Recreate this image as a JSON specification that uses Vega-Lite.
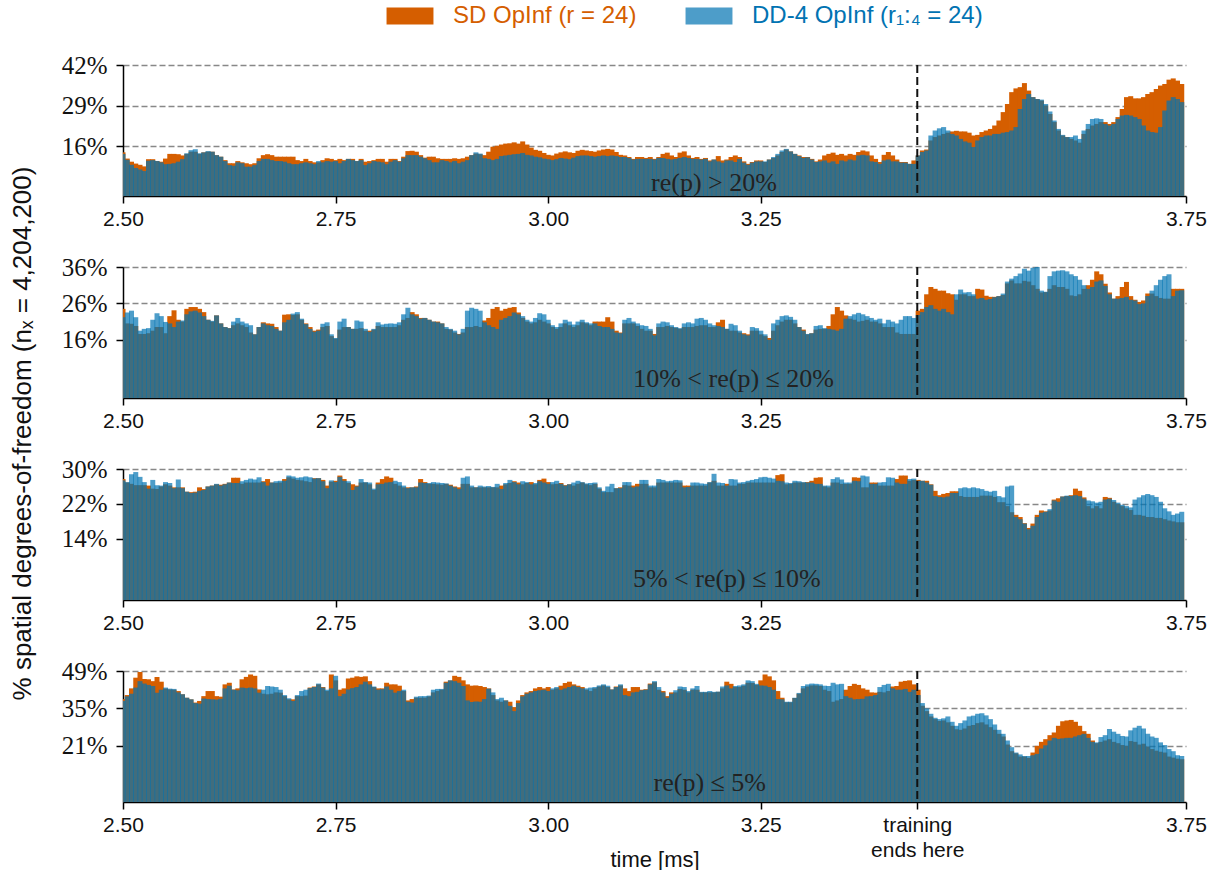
{
"$schema": "https://vega.github.io/schema/vega-lite/v6.json",
"background": "white",
"padding": {"left": 8, "top": 4, "right": 0, "bottom": 0},
"bounds": "flush",
"spacing": 71,
"config": {
 "view": {"stroke": null},
 "font": "Liberation Sans",
 "scale": {"continuousPadding": 0},
 "axis": {"domainColor": "#000", "domainWidth": 1.5, "tickColor": "#000", "tickWidth": 1.5, "tickSize": 7, "labelFont": "Liberation Sans", "labelFontSize": 21, "labelColor": "#111", "labelPadding": 5, "gridColor": "#888", "gridDash": [6, 3], "gridWidth": 1.3, "zindex": 1, "labelOverlap": false, "labelFlush": false, "titleFont": "Liberation Sans", "titleFontSize": 22, "titleFontWeight": "normal", "titleColor": "#111"},
 "axisY": {"labelFont": "Liberation Serif", "labelFontSize": 25, "labelPadding": 9, "grid": true},
 "axisX": {"grid": false, "labelLineHeight": 25}
},
"datasets": {
"p1": [
{"t":2.5,"a":14,"b":13.5},{"t":2.505,"a":12,"b":11.6},{"t":2.51,"a":11,"b":10},{"t":2.515,"a":10.4,"b":9},{"t":2.52,"a":10,"b":8.5},{"t":2.525,"a":9.5,"b":8},{"t":2.53,"a":11.8,"b":11.3},{"t":2.535,"a":11.8,"b":11.5},{"t":2.54,"a":11.2,"b":11.2},{"t":2.545,"a":11,"b":10.8},
{"t":2.55,"a":12,"b":10.2},{"t":2.555,"a":13.5,"b":10.3},{"t":2.56,"a":13.5,"b":10.5},{"t":2.565,"a":13.4,"b":11},{"t":2.57,"a":13,"b":11.8},{"t":2.575,"a":13.5,"b":13.7},{"t":2.58,"a":14.2,"b":14.7},{"t":2.585,"a":14.2,"b":15},{"t":2.59,"a":13.5,"b":13.7},{"t":2.595,"a":14,"b":14},
{"t":2.6,"a":14.2,"b":14.4},{"t":2.605,"a":14.2,"b":14.2},{"t":2.61,"a":13.1,"b":13.1},{"t":2.615,"a":12.6,"b":12.6},{"t":2.62,"a":11.5,"b":11.2},{"t":2.625,"a":10.5,"b":9.9},{"t":2.63,"a":10.5,"b":9.7},{"t":2.635,"a":11.2,"b":10.8},{"t":2.64,"a":10.8,"b":10.5},{"t":2.645,"a":10.5,"b":9.4},
{"t":2.65,"a":10.2,"b":9.4},{"t":2.655,"a":10.5,"b":9.9},{"t":2.66,"a":12.1,"b":11.2},{"t":2.665,"a":13.1,"b":11.9},{"t":2.67,"a":13.4,"b":11.9},{"t":2.675,"a":13.1,"b":11.5},{"t":2.68,"a":12.6,"b":11.2},{"t":2.685,"a":12.6,"b":11.2},{"t":2.69,"a":12.6,"b":11},{"t":2.695,"a":12.6,"b":10.5},
{"t":2.7,"a":12.6,"b":10.2},{"t":2.705,"a":11.5,"b":10.2},{"t":2.71,"a":11.2,"b":10.5},{"t":2.715,"a":11.9,"b":10.8},{"t":2.72,"a":11.2,"b":10.5},{"t":2.725,"a":10.8,"b":10.2},{"t":2.73,"a":10.8,"b":11.2},{"t":2.735,"a":11.5,"b":10.8},{"t":2.74,"a":12.1,"b":11.2},{"t":2.745,"a":11.9,"b":11},
{"t":2.75,"a":11.5,"b":11.2},{"t":2.755,"a":11.9,"b":10.5},{"t":2.76,"a":11.5,"b":11.2},{"t":2.765,"a":11.9,"b":11.9},{"t":2.77,"a":11.9,"b":11.5},{"t":2.775,"a":11.2,"b":11.2},{"t":2.78,"a":11.9,"b":11.5},{"t":2.785,"a":11,"b":9.9},{"t":2.79,"a":11.2,"b":10.5},{"t":2.795,"a":11.5,"b":11.2},
{"t":2.8,"a":11.9,"b":11},{"t":2.805,"a":11.9,"b":10.8},{"t":2.81,"a":11,"b":10.2},{"t":2.815,"a":11.9,"b":11},{"t":2.82,"a":11.9,"b":11.5},{"t":2.825,"a":11.2,"b":11},{"t":2.83,"a":12.6,"b":12.1},{"t":2.835,"a":14.4,"b":13.1},{"t":2.84,"a":14.5,"b":13.1},{"t":2.845,"a":14.2,"b":13.1},
{"t":2.85,"a":13.1,"b":12.6},{"t":2.855,"a":12.3,"b":12.1},{"t":2.86,"a":12.6,"b":11.5},{"t":2.865,"a":12.6,"b":10.8},{"t":2.87,"a":12.1,"b":10.8},{"t":2.875,"a":11.9,"b":11.5},{"t":2.88,"a":11.9,"b":11.2},{"t":2.885,"a":11.9,"b":10.8},{"t":2.89,"a":12.1,"b":11.2},{"t":2.895,"a":11.9,"b":10.5},
{"t":2.9,"a":12.1,"b":11},{"t":2.905,"a":12.6,"b":11.5},{"t":2.91,"a":13.1,"b":13.1},{"t":2.915,"a":13.6,"b":14},{"t":2.92,"a":13.4,"b":13.6},{"t":2.925,"a":13.1,"b":12.1},{"t":2.93,"a":14.2,"b":11.9},{"t":2.935,"a":15.8,"b":11.5},{"t":2.94,"a":16.1,"b":11.9},{"t":2.945,"a":16.5,"b":12.8},
{"t":2.95,"a":16.8,"b":13},{"t":2.955,"a":16.9,"b":13.2},{"t":2.96,"a":17.2,"b":13.4},{"t":2.965,"a":16.8,"b":13.5},{"t":2.97,"a":17.5,"b":13.8},{"t":2.975,"a":16.5,"b":13.2},{"t":2.98,"a":15.5,"b":13},{"t":2.985,"a":14.8,"b":12.6},{"t":2.99,"a":14.5,"b":12.4},{"t":2.995,"a":13.8,"b":12},
{"t":3.0,"a":13.2,"b":11.8},{"t":3.005,"a":13,"b":11.5},{"t":3.01,"a":13.6,"b":11.8},{"t":3.015,"a":14,"b":12.2},{"t":3.02,"a":14.3,"b":12},{"t":3.025,"a":14,"b":11.8},{"t":3.03,"a":13.8,"b":12.3},{"t":3.035,"a":14.5,"b":12.8},{"t":3.04,"a":14.8,"b":13},{"t":3.045,"a":14.6,"b":13},
{"t":3.05,"a":14.4,"b":12.8},{"t":3.055,"a":14.2,"b":12.6},{"t":3.06,"a":14.6,"b":12.8},{"t":3.065,"a":14.9,"b":13},{"t":3.07,"a":15.1,"b":12.8},{"t":3.075,"a":14.9,"b":13},{"t":3.08,"a":14.1,"b":12.8},{"t":3.085,"a":13.2,"b":12.5},{"t":3.09,"a":13,"b":12.5},{"t":3.095,"a":12.5,"b":12.2},
{"t":3.1,"a":11.9,"b":11.7},{"t":3.105,"a":12.5,"b":11.9},{"t":3.11,"a":12.5,"b":11.9},{"t":3.115,"a":12.2,"b":11.9},{"t":3.12,"a":12.5,"b":11.9},{"t":3.125,"a":11.9,"b":11.7},{"t":3.13,"a":12.5,"b":12.2},{"t":3.135,"a":13.5,"b":12.2},{"t":3.14,"a":13.9,"b":11.9},{"t":3.145,"a":13,"b":11.7},
{"t":3.15,"a":12.5,"b":11.9},{"t":3.155,"a":13.9,"b":12.2},{"t":3.16,"a":14.3,"b":12.5},{"t":3.165,"a":13,"b":12.2},{"t":3.17,"a":12.2,"b":11.9},{"t":3.175,"a":12.5,"b":11.9},{"t":3.18,"a":11.9,"b":11.7},{"t":3.185,"a":12.2,"b":11.9},{"t":3.19,"a":11.4,"b":11.1},{"t":3.195,"a":11.7,"b":11.7},
{"t":3.2,"a":12.8,"b":11.1},{"t":3.205,"a":11.4,"b":10.7},{"t":3.21,"a":11.7,"b":11.4},{"t":3.215,"a":12.5,"b":11.4},{"t":3.22,"a":13,"b":10.9},{"t":3.225,"a":12.5,"b":11.9},{"t":3.23,"a":11.1,"b":10.7},{"t":3.235,"a":10.3,"b":10},{"t":3.24,"a":10.9,"b":10.7},{"t":3.245,"a":11.4,"b":11.1},
{"t":3.25,"a":11.4,"b":11.1},{"t":3.255,"a":10.9,"b":11.1},{"t":3.26,"a":11.7,"b":11.7},{"t":3.265,"a":12.2,"b":12.5},{"t":3.27,"a":13,"b":13.5},{"t":3.275,"a":14.1,"b":14.6},{"t":3.28,"a":14.9,"b":15.1},{"t":3.285,"a":14.3,"b":14.3},{"t":3.29,"a":13.5,"b":13.5},{"t":3.295,"a":13,"b":12.8},
{"t":3.3,"a":12.5,"b":12.2},{"t":3.305,"a":12.5,"b":12.4},{"t":3.31,"a":11.9,"b":11.7},{"t":3.315,"a":11.1,"b":10.9},{"t":3.32,"a":11.7,"b":11.1},{"t":3.325,"a":13,"b":11.4},{"t":3.33,"a":13.5,"b":10.7},{"t":3.335,"a":13.9,"b":11.1},{"t":3.34,"a":13.2,"b":10.3},{"t":3.345,"a":13.5,"b":11.4},
{"t":3.35,"a":13,"b":11.1},{"t":3.355,"a":13.5,"b":11.7},{"t":3.36,"a":13.2,"b":11.4},{"t":3.365,"a":14.1,"b":13},{"t":3.37,"a":14.6,"b":13.2},{"t":3.375,"a":14.3,"b":13},{"t":3.38,"a":13,"b":11.1},{"t":3.385,"a":11.9,"b":10.9},{"t":3.39,"a":10.9,"b":10.3},{"t":3.395,"a":13.2,"b":11.4},
{"t":3.4,"a":14.1,"b":11.7},{"t":3.405,"a":13,"b":11.1},{"t":3.41,"a":11.7,"b":11.1},{"t":3.415,"a":10.9,"b":10.7},{"t":3.42,"a":10.9,"b":10.7},{"t":3.425,"a":10.3,"b":10.3},{"t":3.43,"a":11.4,"b":10.3},{"t":3.435,"a":13,"b":13},{"t":3.44,"a":14.6,"b":14.1},{"t":3.445,"a":14.9,"b":14.6},
{"t":3.45,"a":17.8,"b":19.4},{"t":3.455,"a":18.9,"b":21},{"t":3.46,"a":19.4,"b":21.7},{"t":3.465,"a":19.9,"b":22.1},{"t":3.47,"a":20.3,"b":21},{"t":3.475,"a":20.7,"b":19.9},{"t":3.48,"a":20.9,"b":19.4},{"t":3.485,"a":20.7,"b":18.3},{"t":3.49,"a":20.7,"b":17.5},{"t":3.495,"a":20.3,"b":17.1},
{"t":3.5,"a":19.4,"b":15.7},{"t":3.505,"a":19.6,"b":17.8},{"t":3.51,"a":20.5,"b":18.9},{"t":3.515,"a":21,"b":19.4},{"t":3.52,"a":21.5,"b":19.4},{"t":3.525,"a":22.6,"b":19.9},{"t":3.53,"a":24.2,"b":19.9},{"t":3.535,"a":26.9,"b":20.3},{"t":3.54,"a":29.5,"b":20.5},{"t":3.545,"a":33.3,"b":21},
{"t":3.55,"a":34.5,"b":22.1},{"t":3.555,"a":34.9,"b":27.9},{"t":3.56,"a":36.2,"b":31.1},{"t":3.565,"a":33.8,"b":32.7},{"t":3.57,"a":31.7,"b":31.7},{"t":3.575,"a":31.1,"b":31.1},{"t":3.58,"a":30.6,"b":30.9},{"t":3.585,"a":29,"b":29.5},{"t":3.59,"a":26.3,"b":27.1},{"t":3.595,"a":23.7,"b":24.2},
{"t":3.6,"a":21,"b":21.5},{"t":3.605,"a":19.4,"b":19.6},{"t":3.61,"a":18.9,"b":18.9},{"t":3.615,"a":18.3,"b":18.9},{"t":3.62,"a":17.8,"b":19.4},{"t":3.625,"a":17.1,"b":18.3},{"t":3.63,"a":19.9,"b":21},{"t":3.635,"a":21.5,"b":23.1},{"t":3.64,"a":22.6,"b":24.7},{"t":3.645,"a":23.1,"b":24.9},
{"t":3.65,"a":23.7,"b":24.7},{"t":3.655,"a":23.7,"b":23.1},{"t":3.66,"a":23.1,"b":22.6},{"t":3.665,"a":23.7,"b":23.1},{"t":3.67,"a":25.3,"b":24.7},{"t":3.675,"a":27.9,"b":25.8},{"t":3.68,"a":31.7,"b":26},{"t":3.685,"a":32,"b":25.8},{"t":3.69,"a":31.3,"b":25.3},{"t":3.695,"a":31.3,"b":24.7},
{"t":3.7,"a":31.7,"b":22.6},{"t":3.705,"a":32.7,"b":21},{"t":3.71,"a":33.3,"b":20.5},{"t":3.715,"a":34.3,"b":20.3},{"t":3.72,"a":35.4,"b":22.1},{"t":3.725,"a":35.9,"b":27.4},{"t":3.73,"a":37.3,"b":30.6},{"t":3.735,"a":37.7,"b":31.7},{"t":3.74,"a":37,"b":31.1},{"t":3.745,"a":35.9,"b":30.1}
],
"p2": [
{"t":2.5,"a":24.5,"b":22.2},{"t":2.505,"a":20.5,"b":23.5},{"t":2.51,"a":20.4,"b":24},{"t":2.515,"a":19.8,"b":22.2},{"t":2.52,"a":17.6,"b":18.5},{"t":2.525,"a":17.6,"b":19},{"t":2.53,"a":17.8,"b":19.2},{"t":2.535,"a":18.5,"b":21.5},{"t":2.54,"a":19.5,"b":23.3},{"t":2.545,"a":19.5,"b":22.5},
{"t":2.55,"a":17.8,"b":20.9},{"t":2.555,"a":22.5,"b":20.5},{"t":2.56,"a":24.1,"b":19.5},{"t":2.565,"a":21.5,"b":21},{"t":2.57,"a":21,"b":21.3},{"t":2.575,"a":24.5,"b":23},{"t":2.58,"a":25,"b":23.8},{"t":2.585,"a":25,"b":24},{"t":2.59,"a":24.5,"b":23.5},{"t":2.595,"a":23.6,"b":22.5},
{"t":2.6,"a":21.5,"b":21.5},{"t":2.605,"a":21,"b":21.2},{"t":2.61,"a":22.7,"b":22.7},{"t":2.615,"a":20.5,"b":20.5},{"t":2.62,"a":19.5,"b":19.5},{"t":2.625,"a":19.2,"b":19.2},{"t":2.63,"a":20,"b":21},{"t":2.635,"a":20.5,"b":22},{"t":2.64,"a":20,"b":21},{"t":2.645,"a":19.5,"b":20.5},
{"t":2.65,"a":18,"b":20},{"t":2.655,"a":17.5,"b":17.5},{"t":2.66,"a":19.5,"b":19.5},{"t":2.665,"a":20.8,"b":20.5},{"t":2.67,"a":20.5,"b":20},{"t":2.675,"a":20.4,"b":19.8},{"t":2.68,"a":19.5,"b":19},{"t":2.685,"a":18.5,"b":18.5},{"t":2.69,"a":22.9,"b":20.8},{"t":2.695,"a":23,"b":21.5},
{"t":2.7,"a":22.8,"b":23.2},{"t":2.705,"a":23,"b":23.6},{"t":2.71,"a":21.5,"b":21.8},{"t":2.715,"a":20.5,"b":20.3},{"t":2.72,"a":19.5,"b":19},{"t":2.725,"a":18.5,"b":18.2},{"t":2.73,"a":18.8,"b":18.5},{"t":2.735,"a":19.5,"b":20.4},{"t":2.74,"a":19.8,"b":20.8},{"t":2.745,"a":17,"b":17.5},
{"t":2.75,"a":16.3,"b":16.5},{"t":2.755,"a":18.8,"b":21},{"t":2.76,"a":19.5,"b":21.8},{"t":2.765,"a":19.5,"b":19.5},{"t":2.77,"a":19,"b":19},{"t":2.775,"a":19,"b":21.3},{"t":2.78,"a":19.2,"b":21},{"t":2.785,"a":18.5,"b":19},{"t":2.79,"a":18.5,"b":18.2},{"t":2.795,"a":18.8,"b":19},
{"t":2.8,"a":19.8,"b":20.8},{"t":2.805,"a":19.5,"b":20.2},{"t":2.81,"a":19.5,"b":20.4},{"t":2.815,"a":19.5,"b":20.5},{"t":2.82,"a":19.5,"b":20.4},{"t":2.825,"a":20,"b":20.8},{"t":2.83,"a":21.5,"b":23},{"t":2.835,"a":22,"b":24.8},{"t":2.84,"a":23.6,"b":23},{"t":2.845,"a":23,"b":22.5},
{"t":2.85,"a":22,"b":21.8},{"t":2.855,"a":22,"b":22},{"t":2.86,"a":21.5,"b":21.5},{"t":2.865,"a":21,"b":21},{"t":2.87,"a":21,"b":20.8},{"t":2.875,"a":20.5,"b":20.5},{"t":2.88,"a":19,"b":19.5},{"t":2.885,"a":18.8,"b":19},{"t":2.89,"a":18,"b":18.5},{"t":2.895,"a":17.6,"b":17.5},
{"t":2.9,"a":18,"b":19},{"t":2.905,"a":19.5,"b":24},{"t":2.91,"a":19.5,"b":24.8},{"t":2.915,"a":19.8,"b":24.5},{"t":2.92,"a":19.5,"b":24},{"t":2.925,"a":21.3,"b":20.8},{"t":2.93,"a":22,"b":20},{"t":2.935,"a":24.5,"b":19.5},{"t":2.94,"a":25,"b":19},{"t":2.945,"a":24,"b":21.5},
{"t":2.95,"a":24.5,"b":22},{"t":2.955,"a":24.8,"b":22.5},{"t":2.96,"a":25,"b":23.5},{"t":2.965,"a":23.5,"b":23},{"t":2.97,"a":22,"b":22.5},{"t":2.975,"a":21,"b":21.5},{"t":2.98,"a":20.5,"b":21},{"t":2.985,"a":20.8,"b":22},{"t":2.99,"a":21.5,"b":23.3},{"t":2.995,"a":21,"b":23},
{"t":3.0,"a":20.5,"b":21.5},{"t":3.005,"a":19.5,"b":20},{"t":3.01,"a":19,"b":19.5},{"t":3.015,"a":19.5,"b":20.5},{"t":3.02,"a":20.5,"b":21.5},{"t":3.025,"a":20,"b":21},{"t":3.03,"a":19.5,"b":20.2},{"t":3.035,"a":20,"b":21},{"t":3.04,"a":20.8,"b":21.5},{"t":3.045,"a":20.5,"b":20.8},
{"t":3.05,"a":20,"b":20.5},{"t":3.055,"a":21,"b":20.5},{"t":3.06,"a":21,"b":19.8},{"t":3.065,"a":21,"b":19.5},{"t":3.07,"a":22.2,"b":19.5},{"t":3.075,"a":21,"b":19},{"t":3.08,"a":18.5,"b":18},{"t":3.085,"a":18,"b":17.8},{"t":3.09,"a":20.5,"b":21.5},{"t":3.095,"a":20.5,"b":22},
{"t":3.1,"a":20.5,"b":21},{"t":3.105,"a":19.8,"b":20.5},{"t":3.11,"a":19,"b":20},{"t":3.115,"a":18.5,"b":19.8},{"t":3.12,"a":18.5,"b":19},{"t":3.125,"a":17.6,"b":17.2},{"t":3.13,"a":19.5,"b":20.5},{"t":3.135,"a":19.5,"b":21},{"t":3.14,"a":19.8,"b":20.8},{"t":3.145,"a":19.5,"b":20},
{"t":3.15,"a":19.3,"b":19.5},{"t":3.155,"a":19,"b":19.2},{"t":3.16,"a":19.5,"b":20.5},{"t":3.165,"a":19.5,"b":20.8},{"t":3.17,"a":19.5,"b":20.5},{"t":3.175,"a":19.8,"b":21.8},{"t":3.18,"a":20,"b":22},{"t":3.185,"a":20,"b":21.5},{"t":3.19,"a":19.5,"b":20.5},{"t":3.195,"a":19.5,"b":20},
{"t":3.2,"a":20.8,"b":19.8},{"t":3.205,"a":21.5,"b":19.5},{"t":3.21,"a":19,"b":19},{"t":3.215,"a":18.5,"b":20.4},{"t":3.22,"a":18.5,"b":20},{"t":3.225,"a":18,"b":18.5},{"t":3.23,"a":17.8,"b":17.5},{"t":3.235,"a":17.5,"b":17.2},{"t":3.24,"a":18.5,"b":19.5},{"t":3.245,"a":18.5,"b":19.2},
{"t":3.25,"a":17.5,"b":18.5},{"t":3.255,"a":17,"b":17.5},{"t":3.26,"a":16.5,"b":16},{"t":3.265,"a":18.5,"b":20.5},{"t":3.27,"a":20,"b":21.5},{"t":3.275,"a":21,"b":22.5},{"t":3.28,"a":21.5,"b":22.7},{"t":3.285,"a":21.5,"b":22.3},{"t":3.29,"a":20.5,"b":21.5},{"t":3.295,"a":19.5,"b":19.5},
{"t":3.3,"a":18.8,"b":18.5},{"t":3.305,"a":17.5,"b":17.6},{"t":3.31,"a":17.8,"b":17.8},{"t":3.315,"a":18.8,"b":19.8},{"t":3.32,"a":19,"b":20},{"t":3.325,"a":19,"b":19.2},{"t":3.33,"a":19.8,"b":19},{"t":3.335,"a":23,"b":18.8},{"t":3.34,"a":25,"b":18.5},{"t":3.345,"a":24,"b":19},
{"t":3.35,"a":22.7,"b":21.8},{"t":3.355,"a":21.8,"b":22.5},{"t":3.36,"a":21.5,"b":23},{"t":3.365,"a":21,"b":23.4},{"t":3.37,"a":21.2,"b":23},{"t":3.375,"a":21.5,"b":22.5},{"t":3.38,"a":21,"b":22},{"t":3.385,"a":21,"b":21.5},{"t":3.39,"a":20.5,"b":21.8},{"t":3.395,"a":19.5,"b":20.5},
{"t":3.4,"a":19.5,"b":21.5},{"t":3.405,"a":19.5,"b":21},{"t":3.41,"a":18,"b":20.5},{"t":3.415,"a":17.6,"b":21.5},{"t":3.42,"a":17.6,"b":22.5},{"t":3.425,"a":17.6,"b":22.5},{"t":3.43,"a":17.6,"b":22},{"t":3.435,"a":24,"b":22.8},{"t":3.44,"a":24.5,"b":23.6},{"t":3.445,"a":28.5,"b":25},
{"t":3.45,"a":30.5,"b":25.5},{"t":3.455,"a":30,"b":24.5},{"t":3.46,"a":29.5,"b":24},{"t":3.465,"a":29.5,"b":24.5},{"t":3.47,"a":28.8,"b":23.6},{"t":3.475,"a":28.5,"b":23},{"t":3.48,"a":27,"b":28.5},{"t":3.485,"a":28.5,"b":29.8},{"t":3.49,"a":28.5,"b":29},{"t":3.495,"a":28,"b":29.1},
{"t":3.5,"a":28,"b":28.5},{"t":3.505,"a":30,"b":27.3},{"t":3.51,"a":29.8,"b":27.5},{"t":3.515,"a":28.1,"b":27},{"t":3.52,"a":27.8,"b":27.2},{"t":3.525,"a":27.8,"b":27.7},{"t":3.53,"a":28,"b":28},{"t":3.535,"a":28.3,"b":28.7},{"t":3.54,"a":31.5,"b":32},{"t":3.545,"a":32.3,"b":32.8},
{"t":3.55,"a":31.5,"b":33.5},{"t":3.555,"a":31.5,"b":34.2},{"t":3.56,"a":32.2,"b":35.5},{"t":3.565,"a":32,"b":35},{"t":3.57,"a":31,"b":35.8},{"t":3.575,"a":30,"b":36},{"t":3.58,"a":29,"b":29.5},{"t":3.585,"a":29.1,"b":29.2},{"t":3.59,"a":30,"b":33.5},{"t":3.595,"a":31,"b":34.8},
{"t":3.6,"a":30.5,"b":35},{"t":3.605,"a":30.5,"b":35.1},{"t":3.61,"a":30,"b":34.8},{"t":3.615,"a":28.2,"b":34},{"t":3.62,"a":28,"b":33.5},{"t":3.625,"a":28.5,"b":32.5},{"t":3.63,"a":30,"b":31},{"t":3.635,"a":31,"b":30},{"t":3.64,"a":32.5,"b":30.5},{"t":3.645,"a":34.8,"b":32},
{"t":3.65,"a":34,"b":32.3},{"t":3.655,"a":31.4,"b":30.8},{"t":3.66,"a":29,"b":28.5},{"t":3.665,"a":27.3,"b":27.3},{"t":3.67,"a":28,"b":27.3},{"t":3.675,"a":30.5,"b":27.5},{"t":3.68,"a":31.9,"b":27.8},{"t":3.685,"a":28,"b":27},{"t":3.69,"a":27,"b":26.8},{"t":3.695,"a":26.4,"b":25.8},
{"t":3.7,"a":26.8,"b":26},{"t":3.705,"a":28.7,"b":28},{"t":3.71,"a":28.7,"b":29.5},{"t":3.715,"a":28,"b":31},{"t":3.72,"a":27.5,"b":32.5},{"t":3.725,"a":27.3,"b":33.5},{"t":3.73,"a":27.3,"b":34},{"t":3.735,"a":30,"b":28},{"t":3.74,"a":30,"b":29.5},{"t":3.745,"a":30,"b":29.6}
],
"p3": [
{"t":2.5,"a":27.7,"b":27.4},{"t":2.505,"a":26.9,"b":27},{"t":2.51,"a":26.6,"b":28.8},{"t":2.515,"a":26.3,"b":29.3},{"t":2.52,"a":26.3,"b":28.2},{"t":2.525,"a":26.3,"b":27},{"t":2.53,"a":26.2,"b":25.5},{"t":2.535,"a":25.5,"b":27.5},{"t":2.54,"a":25.4,"b":26.3},{"t":2.545,"a":26,"b":26.2},
{"t":2.55,"a":26.5,"b":27},{"t":2.555,"a":26.2,"b":26.8},{"t":2.56,"a":25.8,"b":25.6},{"t":2.565,"a":25.8,"b":27.6},{"t":2.57,"a":25.8,"b":25.6},{"t":2.575,"a":24.8,"b":24.8},{"t":2.58,"a":24.7,"b":24.5},{"t":2.585,"a":24.8,"b":24.6},{"t":2.59,"a":25.8,"b":25},{"t":2.595,"a":25.4,"b":25.2},
{"t":2.6,"a":26,"b":26},{"t":2.605,"a":26.2,"b":26.2},{"t":2.61,"a":26.5,"b":26.6},{"t":2.615,"a":26.4,"b":26.2},{"t":2.62,"a":26.6,"b":26.5},{"t":2.625,"a":26.9,"b":26.9},{"t":2.63,"a":28,"b":26.8},{"t":2.635,"a":28,"b":26.8},{"t":2.64,"a":26.6,"b":27.2},{"t":2.645,"a":26.9,"b":27.5},
{"t":2.65,"a":26.9,"b":27.8},{"t":2.655,"a":26.9,"b":27.6},{"t":2.66,"a":26.9,"b":28.1},{"t":2.665,"a":27.2,"b":27},{"t":2.67,"a":27.7,"b":26.2},{"t":2.675,"a":26.9,"b":26.9},{"t":2.68,"a":26.8,"b":27.2},{"t":2.685,"a":26.9,"b":27.3},{"t":2.69,"a":27.7,"b":27.3},{"t":2.695,"a":28.1,"b":28.5},
{"t":2.7,"a":27.8,"b":28.3},{"t":2.705,"a":27.5,"b":28},{"t":2.71,"a":27.4,"b":28.1},{"t":2.715,"a":27.2,"b":28.3},{"t":2.72,"a":27,"b":28.1},{"t":2.725,"a":27.9,"b":27.8},{"t":2.73,"a":27.9,"b":27.9},{"t":2.735,"a":27.5,"b":27.2},{"t":2.74,"a":26.2,"b":25.6},{"t":2.745,"a":27.1,"b":27.4},
{"t":2.75,"a":27.3,"b":27},{"t":2.755,"a":28.5,"b":28.2},{"t":2.76,"a":27.7,"b":27.3},{"t":2.765,"a":26.8,"b":27.2},{"t":2.77,"a":26.5,"b":25.2},{"t":2.775,"a":26.2,"b":26},{"t":2.78,"a":26.9,"b":27.7},{"t":2.785,"a":26.9,"b":27},{"t":2.79,"a":26.5,"b":26.9},{"t":2.795,"a":25.2,"b":25.5},
{"t":2.8,"a":26.9,"b":26.5},{"t":2.805,"a":27.7,"b":26.6},{"t":2.81,"a":28.3,"b":26.9},{"t":2.815,"a":28,"b":27},{"t":2.82,"a":26.6,"b":27.3},{"t":2.825,"a":26.2,"b":27},{"t":2.83,"a":25.8,"b":26.2},{"t":2.835,"a":25.8,"b":25.6},{"t":2.84,"a":25.8,"b":25.8},{"t":2.845,"a":26,"b":25.8},
{"t":2.85,"a":27.7,"b":26.9},{"t":2.855,"a":27,"b":26.8},{"t":2.86,"a":26.6,"b":26.8},{"t":2.865,"a":26.6,"b":27},{"t":2.87,"a":26.5,"b":26.9},{"t":2.875,"a":26.4,"b":26.8},{"t":2.88,"a":26.6,"b":26.7},{"t":2.885,"a":26.4,"b":26.2},{"t":2.89,"a":26,"b":25.8},{"t":2.895,"a":25.8,"b":25.4},
{"t":2.9,"a":26.6,"b":28},{"t":2.905,"a":26.6,"b":28.3},{"t":2.91,"a":25.8,"b":26.2},{"t":2.915,"a":25.8,"b":25.8},{"t":2.92,"a":25.8,"b":26.2},{"t":2.925,"a":25.8,"b":26},{"t":2.93,"a":25.8,"b":26.1},{"t":2.935,"a":25.8,"b":25.9},{"t":2.94,"a":25.8,"b":26.6},{"t":2.945,"a":26.2,"b":25.4},
{"t":2.95,"a":26.5,"b":26.8},{"t":2.955,"a":26.8,"b":27.5},{"t":2.96,"a":27.2,"b":27},{"t":2.965,"a":26.9,"b":26.5},{"t":2.97,"a":26.5,"b":27.2},{"t":2.975,"a":26.8,"b":27},{"t":2.98,"a":27,"b":26.5},{"t":2.985,"a":26.5,"b":26.8},{"t":2.99,"a":27.5,"b":27.2},{"t":2.995,"a":27.8,"b":26.9},
{"t":3.0,"a":27,"b":26.6},{"t":3.005,"a":26.5,"b":27},{"t":3.01,"a":26.6,"b":27.3},{"t":3.015,"a":26.8,"b":26.6},{"t":3.02,"a":26.3,"b":26.2},{"t":3.025,"a":26.5,"b":26.5},{"t":3.03,"a":26.2,"b":26.9},{"t":3.035,"a":26.6,"b":27.3},{"t":3.04,"a":26.9,"b":27},{"t":3.045,"a":26.5,"b":26.7},
{"t":3.05,"a":26.3,"b":26.8},{"t":3.055,"a":26.6,"b":26.9},{"t":3.06,"a":25.5,"b":25.8},{"t":3.065,"a":24.7,"b":25},{"t":3.07,"a":24.7,"b":26},{"t":3.075,"a":24.7,"b":26.6},{"t":3.08,"a":25.6,"b":25.6},{"t":3.085,"a":25.8,"b":25.6},{"t":3.09,"a":26.3,"b":27},{"t":3.095,"a":26.2,"b":27},
{"t":3.1,"a":26.2,"b":25.8},{"t":3.105,"a":26.6,"b":26},{"t":3.11,"a":26.6,"b":27.5},{"t":3.115,"a":26.6,"b":27.5},{"t":3.12,"a":25.8,"b":26.2},{"t":3.125,"a":25.8,"b":26.2},{"t":3.13,"a":26.9,"b":27.7},{"t":3.135,"a":26.9,"b":27.5},{"t":3.14,"a":26.9,"b":27.2},{"t":3.145,"a":26.9,"b":27.3},
{"t":3.15,"a":26.9,"b":27.5},{"t":3.155,"a":26.9,"b":27.4},{"t":3.16,"a":26.2,"b":25.8},{"t":3.165,"a":26.2,"b":25.9},{"t":3.17,"a":26.2,"b":26.9},{"t":3.175,"a":26.2,"b":26.9},{"t":3.18,"a":26.2,"b":26.7},{"t":3.185,"a":26.2,"b":26.6},{"t":3.19,"a":26.9,"b":27},{"t":3.195,"a":27.3,"b":28.9},
{"t":3.2,"a":26.2,"b":26.9},{"t":3.205,"a":26.2,"b":26.8},{"t":3.21,"a":26.6,"b":26.2},{"t":3.215,"a":26.2,"b":27.7},{"t":3.22,"a":26.2,"b":27.6},{"t":3.225,"a":26.6,"b":26.9},{"t":3.23,"a":26.6,"b":27},{"t":3.235,"a":26.9,"b":27.3},{"t":3.24,"a":26.9,"b":27.5},{"t":3.245,"a":26.9,"b":27.7},
{"t":3.25,"a":26.9,"b":28.1},{"t":3.255,"a":26.9,"b":28.2},{"t":3.26,"a":26.9,"b":28},{"t":3.265,"a":26.9,"b":27.8},{"t":3.27,"a":28.6,"b":27.3},{"t":3.275,"a":28.8,"b":27.2},{"t":3.28,"a":26.5,"b":26.9},{"t":3.285,"a":26.6,"b":26.8},{"t":3.29,"a":26.9,"b":27.3},{"t":3.295,"a":26.9,"b":27.2},
{"t":3.3,"a":26.9,"b":27},{"t":3.305,"a":27,"b":26.9},{"t":3.31,"a":27.3,"b":26.9},{"t":3.315,"a":28,"b":26.6},{"t":3.32,"a":28.1,"b":26.6},{"t":3.325,"a":26,"b":26.2},{"t":3.33,"a":25.8,"b":26.2},{"t":3.335,"a":26.9,"b":27.7},{"t":3.34,"a":26.9,"b":28.1},{"t":3.345,"a":26.6,"b":27.6},
{"t":3.35,"a":26.6,"b":26.9},{"t":3.355,"a":26.6,"b":26.9},{"t":3.36,"a":28.1,"b":27.3},{"t":3.365,"a":28,"b":27.2},{"t":3.37,"a":25.8,"b":28.5},{"t":3.375,"a":25.8,"b":28.3},{"t":3.38,"a":26.9,"b":26.6},{"t":3.385,"a":26.9,"b":26.6},{"t":3.39,"a":26.2,"b":26.9},{"t":3.395,"a":26.2,"b":27},
{"t":3.4,"a":26.2,"b":28.1},{"t":3.405,"a":26.2,"b":28},{"t":3.41,"a":27.7,"b":26.9},{"t":3.415,"a":28.5,"b":26.6},{"t":3.42,"a":28.5,"b":26.6},{"t":3.425,"a":27.3,"b":27.7},{"t":3.43,"a":27.5,"b":27.8},{"t":3.435,"a":27.5,"b":27.3},{"t":3.44,"a":27.3,"b":27.3},{"t":3.445,"a":27.3,"b":26.9},
{"t":3.45,"a":26.5,"b":26.4},{"t":3.455,"a":25,"b":23.8},{"t":3.46,"a":24,"b":23.6},{"t":3.465,"a":24.3,"b":23.5},{"t":3.47,"a":24.5,"b":23.7},{"t":3.475,"a":24.9,"b":24.5},{"t":3.48,"a":24.9,"b":24.5},{"t":3.485,"a":23.8,"b":25.6},{"t":3.49,"a":23.6,"b":25.8},{"t":3.495,"a":23.6,"b":25.6},
{"t":3.5,"a":23.6,"b":25.8},{"t":3.505,"a":23.6,"b":25.6},{"t":3.51,"a":23.9,"b":25.4},{"t":3.515,"a":23.9,"b":25},{"t":3.52,"a":23.9,"b":24.8},{"t":3.525,"a":23.6,"b":25},{"t":3.53,"a":22.4,"b":23.8},{"t":3.535,"a":22.4,"b":23.5},{"t":3.54,"a":21.5,"b":26},{"t":3.545,"a":20.1,"b":26.2},
{"t":3.55,"a":19.5,"b":19},{"t":3.555,"a":19,"b":18.5},{"t":3.56,"a":17.6,"b":17.5},{"t":3.565,"a":16.5,"b":16.2},{"t":3.57,"a":17.5,"b":17},{"t":3.575,"a":19.5,"b":19},{"t":3.58,"a":20.5,"b":20},{"t":3.585,"a":20.3,"b":20.2},{"t":3.59,"a":20.5,"b":20.8},{"t":3.595,"a":23,"b":22.8},
{"t":3.6,"a":23.3,"b":22.5},{"t":3.605,"a":23.7,"b":23.7},{"t":3.61,"a":23.8,"b":23.9},{"t":3.615,"a":24,"b":23.8},{"t":3.62,"a":25.5,"b":24},{"t":3.625,"a":25,"b":23.8},{"t":3.63,"a":23.5,"b":23.2},{"t":3.635,"a":21.5,"b":22.8},{"t":3.64,"a":21,"b":22.6},{"t":3.645,"a":21.5,"b":22.3},
{"t":3.65,"a":21,"b":22.5},{"t":3.655,"a":23.6,"b":23},{"t":3.66,"a":23.4,"b":23.2},{"t":3.665,"a":22.5,"b":22.9},{"t":3.67,"a":22,"b":22.3},{"t":3.675,"a":21.5,"b":21.8},{"t":3.68,"a":21,"b":21.5},{"t":3.685,"a":20.6,"b":21.2},{"t":3.69,"a":19.5,"b":23},{"t":3.695,"a":19.5,"b":23.5},
{"t":3.7,"a":19.3,"b":24},{"t":3.705,"a":19,"b":24.3},{"t":3.71,"a":19,"b":24},{"t":3.715,"a":18.8,"b":23.6},{"t":3.72,"a":18.8,"b":22.5},{"t":3.725,"a":18.5,"b":21},{"t":3.73,"a":18.2,"b":20.3},{"t":3.735,"a":18,"b":19.5},{"t":3.74,"a":17.8,"b":19.8},{"t":3.745,"a":17.8,"b":20.2}
],
"p4": [
{"t":2.5,"a":38.5,"b":37.8},{"t":2.505,"a":40,"b":39.5},{"t":2.51,"a":42.5,"b":40.5},{"t":2.515,"a":46.5,"b":42.8},{"t":2.52,"a":48.6,"b":45.2},{"t":2.525,"a":46,"b":44.3},{"t":2.53,"a":45.9,"b":43.8},{"t":2.535,"a":45.2,"b":43.4},{"t":2.54,"a":46.8,"b":40.9},{"t":2.545,"a":45,"b":42},
{"t":2.55,"a":42.4,"b":42.8},{"t":2.555,"a":42.1,"b":42.4},{"t":2.56,"a":42,"b":42.3},{"t":2.565,"a":41.5,"b":41},{"t":2.57,"a":40.3,"b":40.3},{"t":2.575,"a":39,"b":39},{"t":2.58,"a":38.4,"b":38.4},{"t":2.585,"a":37.2,"b":37},{"t":2.59,"a":37.8,"b":36.8},{"t":2.595,"a":39.6,"b":38.7},
{"t":2.6,"a":41.5,"b":38.5},{"t":2.605,"a":41.5,"b":38.4},{"t":2.61,"a":39.6,"b":38.3},{"t":2.615,"a":39.4,"b":38.6},{"t":2.62,"a":44,"b":42.5},{"t":2.625,"a":44.6,"b":43.5},{"t":2.63,"a":42.1,"b":42},{"t":2.635,"a":42.5,"b":41.8},{"t":2.64,"a":45.9,"b":42.8},{"t":2.645,"a":46.8,"b":42.6},
{"t":2.65,"a":47.7,"b":42.8},{"t":2.655,"a":47.2,"b":42.5},{"t":2.66,"a":42.1,"b":40.9},{"t":2.665,"a":40.5,"b":42},{"t":2.67,"a":40.3,"b":43.4},{"t":2.675,"a":40.5,"b":43.2},{"t":2.68,"a":41,"b":43},{"t":2.685,"a":40.9,"b":42},{"t":2.69,"a":39.6,"b":40},{"t":2.695,"a":38.4,"b":38.8},
{"t":2.7,"a":38.4,"b":37.8},{"t":2.705,"a":39.6,"b":40},{"t":2.71,"a":39.6,"b":41.5},{"t":2.715,"a":39.8,"b":42},{"t":2.72,"a":42.8,"b":42.6},{"t":2.725,"a":43.2,"b":43},{"t":2.73,"a":44,"b":44.3},{"t":2.735,"a":43,"b":42.8},{"t":2.74,"a":41.5,"b":42},{"t":2.745,"a":47.7,"b":42.5},
{"t":2.75,"a":45.5,"b":47.2},{"t":2.755,"a":42,"b":39.6},{"t":2.76,"a":42.5,"b":40.5},{"t":2.765,"a":46.2,"b":42.1},{"t":2.77,"a":46.5,"b":42.6},{"t":2.775,"a":47,"b":43},{"t":2.78,"a":46.8,"b":44},{"t":2.785,"a":47,"b":45},{"t":2.79,"a":45.2,"b":44},{"t":2.795,"a":43,"b":43.2},
{"t":2.8,"a":42.5,"b":42},{"t":2.805,"a":42.5,"b":42.2},{"t":2.81,"a":44.6,"b":43.2},{"t":2.815,"a":44,"b":42},{"t":2.82,"a":44,"b":40.9},{"t":2.825,"a":43.5,"b":41.5},{"t":2.83,"a":41.5,"b":42},{"t":2.835,"a":38,"b":37.5},{"t":2.84,"a":38.5,"b":37.2},{"t":2.845,"a":39,"b":39.4},
{"t":2.85,"a":39,"b":39.6},{"t":2.855,"a":39,"b":39.6},{"t":2.86,"a":39.5,"b":39.8},{"t":2.865,"a":41,"b":42},{"t":2.87,"a":41.5,"b":42.3},{"t":2.875,"a":42,"b":42.3},{"t":2.88,"a":45,"b":44.6},{"t":2.885,"a":45.5,"b":45.5},{"t":2.89,"a":47.2,"b":45.2},{"t":2.895,"a":46.8,"b":44.6},
{"t":2.9,"a":45.5,"b":43.4},{"t":2.905,"a":44,"b":38},{"t":2.91,"a":43.5,"b":37.4},{"t":2.915,"a":43.6,"b":37.6},{"t":2.92,"a":43.4,"b":37.5},{"t":2.925,"a":43,"b":38.5},{"t":2.93,"a":42.5,"b":42.4},{"t":2.935,"a":40,"b":41},{"t":2.94,"a":38,"b":38.5},{"t":2.945,"a":37.5,"b":39},
{"t":2.95,"a":38,"b":38},{"t":2.955,"a":37.5,"b":36},{"t":2.96,"a":35.5,"b":34},{"t":2.965,"a":38,"b":37},{"t":2.97,"a":40,"b":39.5},{"t":2.975,"a":41,"b":40.5},{"t":2.98,"a":41.5,"b":41},{"t":2.985,"a":42.5,"b":41.5},{"t":2.99,"a":43,"b":41.8},{"t":2.995,"a":42.5,"b":42},
{"t":3.0,"a":43,"b":41.5},{"t":3.005,"a":42,"b":42.5},{"t":3.01,"a":42.5,"b":43},{"t":3.015,"a":43.5,"b":42},{"t":3.02,"a":44.5,"b":42.5},{"t":3.025,"a":45,"b":43},{"t":3.03,"a":44,"b":43.5},{"t":3.035,"a":43.5,"b":43},{"t":3.04,"a":43,"b":42.5},{"t":3.045,"a":42,"b":42.5},
{"t":3.05,"a":41.5,"b":42.8},{"t":3.055,"a":42.5,"b":43},{"t":3.06,"a":43.2,"b":43.6},{"t":3.065,"a":43.6,"b":44},{"t":3.07,"a":43,"b":43.5},{"t":3.075,"a":42.1,"b":42.1},{"t":3.08,"a":43.2,"b":43},{"t":3.085,"a":43.6,"b":44},{"t":3.09,"a":42.5,"b":40},{"t":3.095,"a":41.5,"b":39.6},
{"t":3.1,"a":43,"b":41},{"t":3.105,"a":43,"b":41.2},{"t":3.11,"a":42,"b":41.8},{"t":3.115,"a":42.2,"b":42},{"t":3.12,"a":44.3,"b":44},{"t":3.125,"a":44.8,"b":45.2},{"t":3.13,"a":42,"b":43},{"t":3.135,"a":41.5,"b":41},{"t":3.14,"a":39.6,"b":39},{"t":3.145,"a":41,"b":40.5},
{"t":3.15,"a":41,"b":41.8},{"t":3.155,"a":42.3,"b":43.2},{"t":3.16,"a":42,"b":43},{"t":3.165,"a":41,"b":41.5},{"t":3.17,"a":42,"b":42.5},{"t":3.175,"a":42,"b":43.4},{"t":3.18,"a":41,"b":41.2},{"t":3.185,"a":41,"b":41.2},{"t":3.19,"a":41,"b":41.5},{"t":3.195,"a":41,"b":41.2},
{"t":3.2,"a":41.2,"b":41.3},{"t":3.205,"a":42.5,"b":43.2},{"t":3.21,"a":45,"b":43.6},{"t":3.215,"a":44.2,"b":42.5},{"t":3.22,"a":43,"b":43.4},{"t":3.225,"a":43,"b":43.6},{"t":3.23,"a":43.5,"b":44},{"t":3.235,"a":44.6,"b":45.5},{"t":3.24,"a":44.5,"b":45.2},{"t":3.245,"a":43.8,"b":44.2},
{"t":3.25,"a":45.5,"b":43.6},{"t":3.255,"a":47.7,"b":43.5},{"t":3.26,"a":47,"b":43},{"t":3.265,"a":45.5,"b":42},{"t":3.27,"a":41.5,"b":38.5},{"t":3.275,"a":39,"b":38.4},{"t":3.28,"a":37.3,"b":37.5},{"t":3.285,"a":37.3,"b":37.5},{"t":3.29,"a":38.9,"b":39},{"t":3.295,"a":40.5,"b":40.8},
{"t":3.3,"a":42.5,"b":43.4},{"t":3.305,"a":43.2,"b":44},{"t":3.31,"a":43.6,"b":44.3},{"t":3.315,"a":43.6,"b":44.2},{"t":3.32,"a":43.4,"b":44},{"t":3.325,"a":42,"b":43.5},{"t":3.33,"a":41.5,"b":43.4},{"t":3.335,"a":37.5,"b":44.6},{"t":3.34,"a":38,"b":44},{"t":3.345,"a":38.5,"b":44.2},
{"t":3.35,"a":42,"b":39.6},{"t":3.355,"a":43.4,"b":39},{"t":3.36,"a":44.2,"b":38.4},{"t":3.365,"a":43.8,"b":38.5},{"t":3.37,"a":42.5,"b":38.6},{"t":3.375,"a":42,"b":39.5},{"t":3.38,"a":41,"b":39.6},{"t":3.385,"a":40.9,"b":40},{"t":3.39,"a":41.2,"b":43},{"t":3.395,"a":41,"b":43.8},
{"t":3.4,"a":41.5,"b":44.2},{"t":3.405,"a":43.2,"b":42.5},{"t":3.41,"a":43.4,"b":42},{"t":3.415,"a":45,"b":42},{"t":3.42,"a":45.3,"b":42.3},{"t":3.425,"a":45.5,"b":41.2},{"t":3.43,"a":44,"b":42},{"t":3.435,"a":42,"b":40},{"t":3.44,"a":36,"b":37},{"t":3.445,"a":34,"b":35},
{"t":3.45,"a":32,"b":33},{"t":3.455,"a":31,"b":31.5},{"t":3.46,"a":30.3,"b":31},{"t":3.465,"a":30.5,"b":31.3},{"t":3.47,"a":29.8,"b":32},{"t":3.475,"a":28.5,"b":30},{"t":3.48,"a":27.2,"b":28.5},{"t":3.485,"a":27,"b":29.5},{"t":3.49,"a":27.5,"b":30.5},{"t":3.495,"a":28.5,"b":32},
{"t":3.5,"a":28.8,"b":32.3},{"t":3.505,"a":29.5,"b":33},{"t":3.51,"a":29.8,"b":33.2},{"t":3.515,"a":29,"b":32.4},{"t":3.52,"a":28,"b":31},{"t":3.525,"a":27,"b":29},{"t":3.53,"a":25.5,"b":27},{"t":3.535,"a":24.5,"b":25.5},{"t":3.54,"a":21.5,"b":23},{"t":3.545,"a":19,"b":20.5},
{"t":3.55,"a":18.2,"b":18.5},{"t":3.555,"a":17,"b":17.8},{"t":3.56,"a":17,"b":17.2},{"t":3.565,"a":16.5,"b":17.2},{"t":3.57,"a":18.5,"b":17.5},{"t":3.575,"a":21,"b":18},{"t":3.58,"a":22.5,"b":20},{"t":3.585,"a":23.5,"b":21.2},{"t":3.59,"a":25,"b":23},{"t":3.595,"a":26,"b":24},
{"t":3.6,"a":28.5,"b":23.6},{"t":3.605,"a":30.2,"b":23.8},{"t":3.61,"a":30.5,"b":24},{"t":3.615,"a":30.7,"b":24},{"t":3.62,"a":30,"b":24.5},{"t":3.625,"a":28.5,"b":25},{"t":3.63,"a":26.5,"b":25.5},{"t":3.635,"a":25.5,"b":24},{"t":3.64,"a":23,"b":22.5},{"t":3.645,"a":22,"b":22.3},
{"t":3.65,"a":22.5,"b":24.3},{"t":3.655,"a":23,"b":25},{"t":3.66,"a":23.5,"b":27.3},{"t":3.665,"a":22.5,"b":26.3},{"t":3.67,"a":22,"b":25.5},{"t":3.675,"a":21.3,"b":24.7},{"t":3.68,"a":21,"b":24.5},{"t":3.685,"a":22.8,"b":26.8},{"t":3.69,"a":22.5,"b":27.8},{"t":3.695,"a":21.5,"b":28.5},
{"t":3.7,"a":21.8,"b":27.5},{"t":3.705,"a":20.8,"b":25.5},{"t":3.71,"a":19.8,"b":24.5},{"t":3.715,"a":19.2,"b":24},{"t":3.72,"a":18.8,"b":22.3},{"t":3.725,"a":18.5,"b":21.3},{"t":3.73,"a":17,"b":19.8},{"t":3.735,"a":16.6,"b":19},{"t":3.74,"a":16.2,"b":17.5},{"t":3.745,"a":16,"b":17.2}
]
},
"vconcat": [
{
 "width": 1063, "height": 131,
 "layer": [
  {"data": {"name": "p1"}, "mark": {"type": "bar", "width": 5, "clip": true},
   "encoding": {
    "x": {"field": "t", "type": "quantitative", "scale": {"domain": [2.5, 3.75], "nice": false, "zero": false, "padding": 0}, "axis": {"values": [2.5, 2.75, 3.0, 3.25, 3.75], "format": ".2f", "title": null}},
    "y": {"field": "a", "type": "quantitative", "scale": {"domain": [0, 42], "nice": false}, "axis": {"values": [16, 29, 42], "labelExpr": "datum.value + '%'", "title": null}},
    "color": {"datum": "SD OpInf (r = 24)", "type": "nominal",
      "scale": {"domain": ["SD OpInf (r = 24)", "DD-4 OpInf (r₁:₄ = 24)"], "range": ["#d55e00", "rgba(1,115,178,0.7)"]},
      "legend": {"title": null, "orient": "none", "legendX": 275, "legendY": -61, "direction": "horizontal", "symbolType": "M-2.76,-1L2.76,-1L2.76,1L-2.76,1Z", "symbolSize": 289, "symbolStrokeWidth": 0, "labelFont": "Liberation Sans", "labelFontSize": 24, "labelOffset": 31, "columnPadding": 48, "labelLimit": 400,
        "encode": {"labels": {"update": {"fill": {"signal": "datum.label == 'SD OpInf (r = 24)' ? '#d55e00' : '#0173b2'"}}}}}}
   }},
  {"data": {"name": "p1"}, "mark": {"type": "bar", "width": 5, "clip": true},
   "encoding": {"x": {"field": "t", "type": "quantitative"}, "y": {"field": "b", "type": "quantitative"}, "color": {"datum": "DD-4 OpInf (r₁:₄ = 24)", "type": "nominal"}}},
  {"data": {"values": [{"t": 3.434}]}, "mark": {"type": "rule", "strokeDash": [8, 4], "strokeWidth": 2, "color": "#111"},
   "encoding": {"x": {"field": "t", "type": "quantitative"}}},
  {"data": {"values": [{"t": 3.195, "v": 4.2, "label": "re(p) > 20%"}]}, "mark": {"type": "text", "font": "Liberation Serif", "fontSize": 26, "color": "#222", "baseline": "middle"},
   "encoding": {"x": {"field": "t", "type": "quantitative"}, "y": {"field": "v", "type": "quantitative"}, "text": {"field": "label"}}}
 ]
},
{
 "width": 1063, "height": 131,
 "layer": [
  {"data": {"name": "p2"}, "mark": {"type": "bar", "width": 5, "clip": true},
   "encoding": {
    "x": {"field": "t", "type": "quantitative", "scale": {"domain": [2.5, 3.75], "nice": false, "zero": false, "padding": 0}, "axis": {"values": [2.5, 2.75, 3.0, 3.25, 3.75], "format": ".2f", "title": null}},
    "y": {"field": "a", "type": "quantitative", "scale": {"domain": [0, 36], "nice": false}, "axis": {"values": [16, 26, 36], "labelExpr": "datum.value + '%'", "title": "% spatial degrees-of-freedom (nₓ = 4,204,200)", "titleAngle": -90, "titleX": -101, "titleY": 166, "titleAlign": "center", "titleBaseline": "middle", "titleFontSize": 26}},
    "color": {"datum": "SD OpInf (r = 24)", "type": "nominal"}
   }},
  {"data": {"name": "p2"}, "mark": {"type": "bar", "width": 5, "clip": true},
   "encoding": {"x": {"field": "t", "type": "quantitative"}, "y": {"field": "b", "type": "quantitative"}, "color": {"datum": "DD-4 OpInf (r₁:₄ = 24)", "type": "nominal"}}},
  {"data": {"values": [{"t": 3.434}]}, "mark": {"type": "rule", "strokeDash": [8, 4], "strokeWidth": 2, "color": "#111"},
   "encoding": {"x": {"field": "t", "type": "quantitative"}}},
  {"data": {"values": [{"t": 3.218, "v": 5.3, "label": "10% < re(p) ≤ 20%"}]}, "mark": {"type": "text", "font": "Liberation Serif", "fontSize": 26, "color": "#222", "baseline": "middle"},
   "encoding": {"x": {"field": "t", "type": "quantitative"}, "y": {"field": "v", "type": "quantitative"}, "text": {"field": "label"}}}
 ]
},
{
 "width": 1063, "height": 131,
 "layer": [
  {"data": {"name": "p3"}, "mark": {"type": "bar", "width": 5, "clip": true},
   "encoding": {
    "x": {"field": "t", "type": "quantitative", "scale": {"domain": [2.5, 3.75], "nice": false, "zero": false, "padding": 0}, "axis": {"values": [2.5, 2.75, 3.0, 3.25, 3.75], "format": ".2f", "title": null}},
    "y": {"field": "a", "type": "quantitative", "scale": {"domain": [0, 30], "nice": false}, "axis": {"values": [14, 22, 30], "labelExpr": "datum.value + '%'", "title": null}},
    "color": {"datum": "SD OpInf (r = 24)", "type": "nominal"}
   }},
  {"data": {"name": "p3"}, "mark": {"type": "bar", "width": 5, "clip": true},
   "encoding": {"x": {"field": "t", "type": "quantitative"}, "y": {"field": "b", "type": "quantitative"}, "color": {"datum": "DD-4 OpInf (r₁:₄ = 24)", "type": "nominal"}}},
  {"data": {"values": [{"t": 3.434}]}, "mark": {"type": "rule", "strokeDash": [8, 4], "strokeWidth": 2, "color": "#111"},
   "encoding": {"x": {"field": "t", "type": "quantitative"}}},
  {"data": {"values": [{"t": 3.21, "v": 4.8, "label": "5% < re(p) ≤ 10%"}]}, "mark": {"type": "text", "font": "Liberation Serif", "fontSize": 26, "color": "#222", "baseline": "middle"},
   "encoding": {"x": {"field": "t", "type": "quantitative"}, "y": {"field": "v", "type": "quantitative"}, "text": {"field": "label"}}}
 ]
},
{
 "width": 1063, "height": 131,
 "layer": [
  {"data": {"name": "p4"}, "mark": {"type": "bar", "width": 5, "clip": true},
   "encoding": {
    "x": {"field": "t", "type": "quantitative", "scale": {"domain": [2.5, 3.75], "nice": false, "zero": false, "padding": 0}, "axis": {"values": [2.5, 2.75, 3.0, 3.25, 3.434, 3.75], "labelExpr": "datum.value > 3.4 && datum.value < 3.5 ? ['training', 'ends here'] : format(datum.value, '.2f')", "title": "time [ms]", "titleY": 57, "titleBaseline": "middle"}},
    "y": {"field": "a", "type": "quantitative", "scale": {"domain": [0, 49], "nice": false}, "axis": {"values": [21, 35, 49], "labelExpr": "datum.value + '%'", "title": null}},
    "color": {"datum": "SD OpInf (r = 24)", "type": "nominal"}
   }},
  {"data": {"name": "p4"}, "mark": {"type": "bar", "width": 5, "clip": true},
   "encoding": {"x": {"field": "t", "type": "quantitative"}, "y": {"field": "b", "type": "quantitative"}, "color": {"datum": "DD-4 OpInf (r₁:₄ = 24)", "type": "nominal"}}},
  {"data": {"values": [{"t": 3.434}]}, "mark": {"type": "rule", "strokeDash": [8, 4], "strokeWidth": 2, "color": "#111"},
   "encoding": {"x": {"field": "t", "type": "quantitative"}}},
  {"data": {"values": [{"t": 3.19, "v": 7.1, "label": "re(p) ≤ 5%"}]}, "mark": {"type": "text", "font": "Liberation Serif", "fontSize": 26, "color": "#222", "baseline": "middle"},
   "encoding": {"x": {"field": "t", "type": "quantitative"}, "y": {"field": "v", "type": "quantitative"}, "text": {"field": "label"}}}
 ]
}
]
}
